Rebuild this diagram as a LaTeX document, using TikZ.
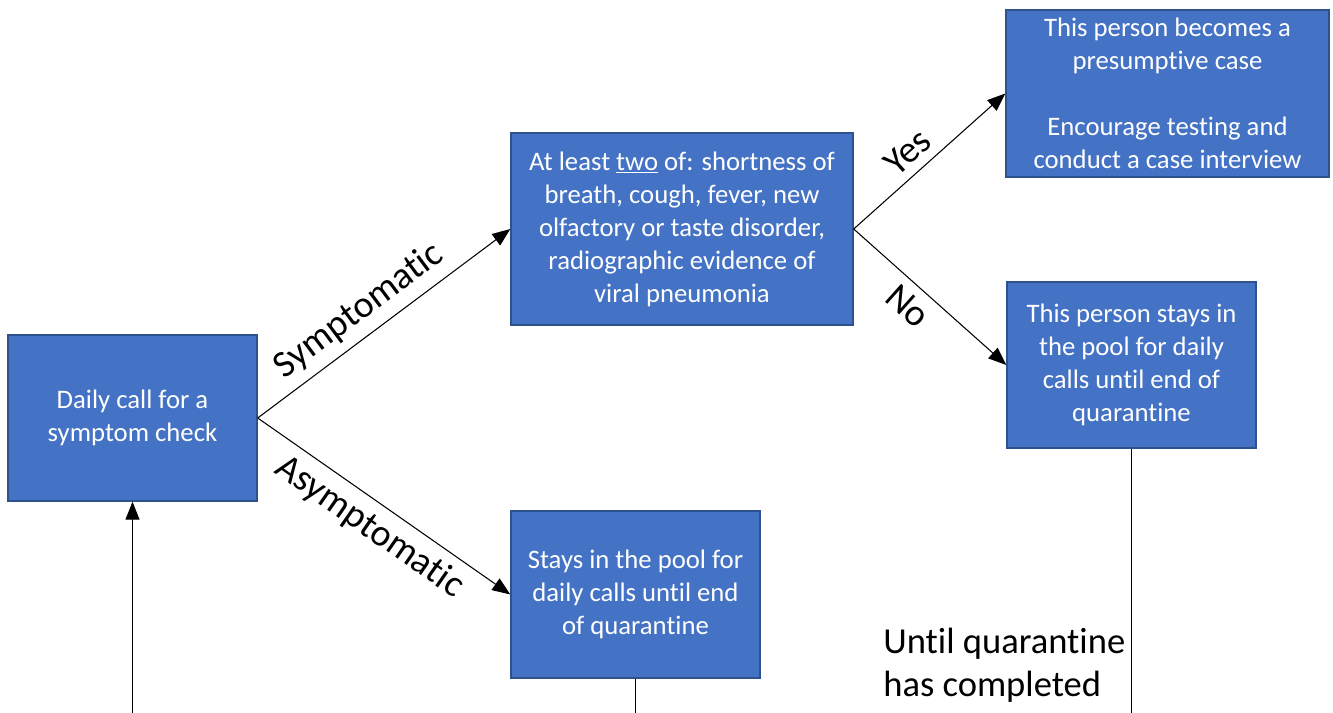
\documentclass[tikz,border=0pt]{standalone}
\usepackage{fontspec}
\setmainfont{Carlito}[Ligatures={NoCommon}]
\usepackage{xcolor}
\definecolor{boxblue}{HTML}{4472C4}
\definecolor{boxedge}{HTML}{2F528F}
\usetikzlibrary{positioning,arrows.meta}

\begin{document}
\begin{tikzpicture}[
    stepbox/.style={draw=boxedge, line width=0.8pt, fill=boxblue, text=white, align=center,
        font=\fontsize{15.2}{18.8}\selectfont, inner sep=2pt},
    flow/.style={line width=0.6pt, -{Triangle[length=3.6mm,width=2.8mm]}},
    edgelabel/.style={font=\fontsize{21.5}{26}\selectfont, sloped, inner sep=5pt}
]
    \useasboundingbox (0,0) rectangle (26.66,14.26);

    % Boxes
    \node[stepbox, minimum width=4.98cm, minimum height=3.32cm] (check) at (2.65,5.90)
        {Daily call for a\\symptom check};
    \node[stepbox, minimum width=6.84cm, minimum height=3.84cm] (twoof) at (13.64,9.68)
        {At least \underline{two} of: shortness of\\breath, cough, fever, new\\olfactory or taste disorder,\\radiographic evidence of\\viral pneumonia};
    \node[stepbox, minimum width=6.46cm, minimum height=3.34cm] (presumptive) at (23.35,12.39)
        {This person becomes a\\presumptive case\\[18.8pt]Encourage testing and\\conduct a case interview};
    \node[stepbox, minimum width=4.98cm, minimum height=3.32cm] (staysin) at (22.63,6.96)
        {This person stays in\\the pool for daily\\calls until end of\\quarantine};
    \node[stepbox, minimum width=4.98cm, minimum height=3.34cm] (pool) at (12.71,2.37)
        {Stays in the pool for\\daily calls until end\\of quarantine};

    % Note
    \node[anchor=base west, align=left, inner sep=0pt, font=\fontsize{20.8}{25}\selectfont] (until) at (17.66,0.32)
        {Until quarantine\\has completed};

    % Connectors
    \draw[flow] (check.east) -- node[edgelabel, above, pos=0.46] {Symptomatic} (twoof.west);
    \draw[flow] (check.east) -- node[edgelabel, below, pos=0.5] {Asymptomatic} (pool.west);
    \draw[flow] (twoof.east) -- node[edgelabel, above, pos=0.45] {Yes} (presumptive.west);
    \draw[flow] (twoof.east) -- node[edgelabel, below, pos=0.45] {No} (staysin.west);

    % Loose ends at the bottom
    \coordinate (loopin) at (check.south |- 0,0);
    \coordinate (poolout) at (pool.south |- 0,0);
    \coordinate (staysout) at (staysin.south |- 0,0);
    \draw[flow] (loopin) -- (check.south);
    \draw[line width=0.6pt] (pool.south) -- (poolout);
    \draw[line width=0.6pt] (staysin.south) -- (staysout);
\end{tikzpicture}
\end{document}
